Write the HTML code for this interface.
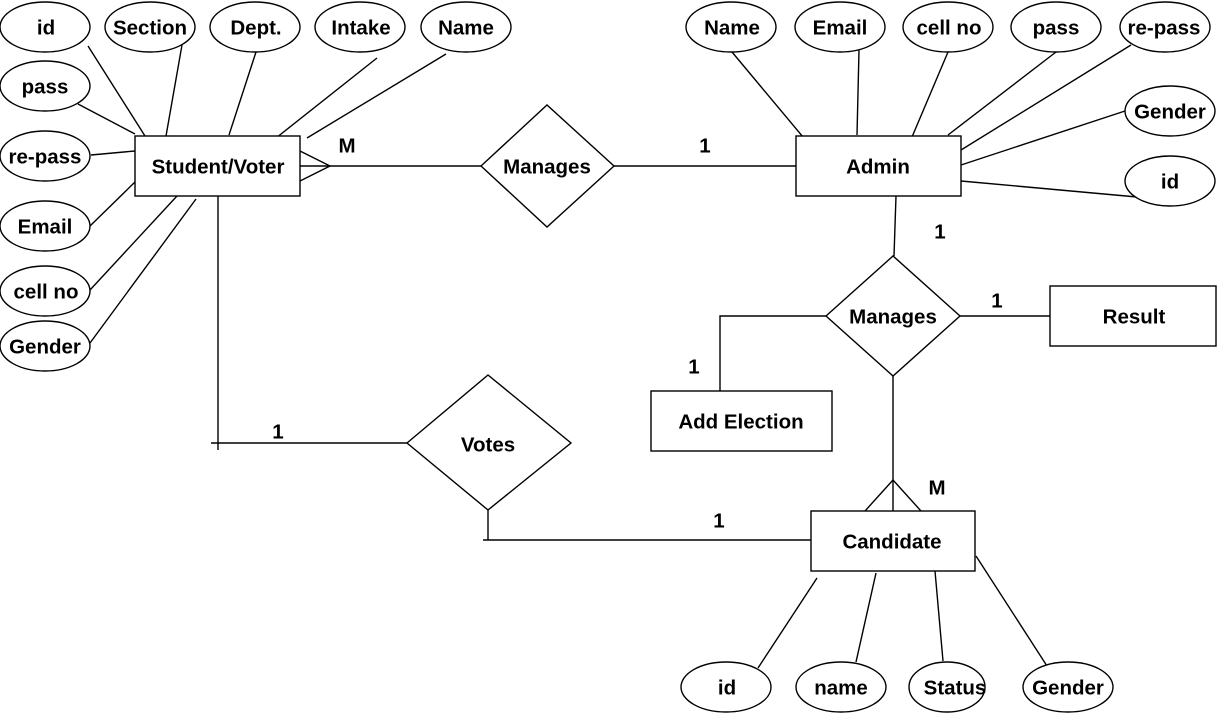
<!DOCTYPE html>
<html><head><meta charset="utf-8"><style>
html,body{margin:0;padding:0;background:#fff;}
svg{display:block;}
text{font-family:"Liberation Sans",Arial,sans-serif;font-weight:bold;font-size:20.5px;fill:#000;text-anchor:middle;dominant-baseline:central;}
</style></head><body>
<svg width="1217" height="713" viewBox="0 0 1217 713" xmlns="http://www.w3.org/2000/svg">
<g stroke="#000" stroke-width="1.4" fill="none">
<line x1="88" y1="46" x2="145" y2="136"/>
<line x1="182" y1="45" x2="166" y2="136"/>
<line x1="256" y1="52" x2="229" y2="135"/>
<line x1="377" y1="58" x2="276" y2="138"/>
<line x1="446" y1="54" x2="307" y2="138"/>
<line x1="78" y1="104" x2="135" y2="134"/>
<line x1="91" y1="155" x2="135" y2="151"/>
<line x1="90" y1="226" x2="135" y2="182"/>
<line x1="90" y1="290" x2="177" y2="196"/>
<line x1="90" y1="343" x2="196" y2="199"/>
<line x1="300" y1="151" x2="330" y2="166"/>
<line x1="300" y1="166" x2="481" y2="166"/>
<line x1="300" y1="181" x2="330" y2="166"/>
<line x1="614" y1="166" x2="796" y2="166"/>
<line x1="732" y1="52" x2="803" y2="137"/>
<line x1="859" y1="50" x2="857" y2="135"/>
<line x1="948" y1="52" x2="912" y2="137"/>
<line x1="1056" y1="52" x2="948" y2="135"/>
<line x1="1131" y1="45" x2="961" y2="150"/>
<line x1="1125" y1="111" x2="961" y2="165"/>
<line x1="1137" y1="197" x2="961" y2="181"/>
<line x1="896" y1="196" x2="894" y2="256"/>
<line x1="960" y1="316" x2="1050" y2="316"/>
<polyline points="826,316 720,316 720,392"/>
<line x1="893" y1="376" x2="893" y2="511"/>
<line x1="893" y1="480" x2="865" y2="511"/>
<line x1="893" y1="480" x2="921" y2="511"/>
<line x1="218" y1="196" x2="218" y2="450"/>
<line x1="211" y1="443" x2="407" y2="443"/>
<line x1="488" y1="510" x2="488" y2="540"/>
<line x1="483" y1="540" x2="811" y2="540"/>
<line x1="817" y1="578" x2="758" y2="668"/>
<line x1="876" y1="573" x2="856" y2="662"/>
<line x1="935" y1="571" x2="943" y2="661"/>
<line x1="976" y1="556" x2="1047" y2="666"/>
</g>
<g stroke="#000" stroke-width="1.4" fill="#fff">
<rect x="135" y="136" width="165" height="60"/>
<rect x="796" y="136" width="165" height="60"/>
<rect x="1050" y="286" width="166" height="60"/>
<rect x="651" y="391" width="181" height="60"/>
<rect x="811" y="511" width="164" height="60"/>
<polygon points="481,166 547,105 614,166 547,227"/>
<polygon points="826,316 893,256 960,316 893,376"/>
<polygon points="407,443 488,375 571,443 488,510"/>
<ellipse cx="45" cy="27" rx="45" ry="25"/>
<ellipse cx="150" cy="27" rx="45" ry="25"/>
<ellipse cx="255" cy="27" rx="45" ry="25"/>
<ellipse cx="360" cy="27" rx="45" ry="25"/>
<ellipse cx="466" cy="27" rx="45" ry="25"/>
<ellipse cx="45" cy="86" rx="45" ry="25"/>
<ellipse cx="45" cy="156" rx="45" ry="25"/>
<ellipse cx="45" cy="226" rx="45" ry="25"/>
<ellipse cx="45" cy="291" rx="45" ry="25"/>
<ellipse cx="45" cy="346" rx="45" ry="25"/>
<ellipse cx="731" cy="27" rx="45" ry="25"/>
<ellipse cx="840" cy="27" rx="45" ry="25"/>
<ellipse cx="948" cy="27" rx="45" ry="25"/>
<ellipse cx="1056" cy="27" rx="45" ry="25"/>
<ellipse cx="1165" cy="27" rx="45" ry="25"/>
<ellipse cx="1170" cy="111" rx="45" ry="25"/>
<ellipse cx="1170" cy="181" rx="45" ry="25"/>
<ellipse cx="726" cy="687" rx="45" ry="25"/>
<ellipse cx="841" cy="687" rx="45" ry="25"/>
<ellipse cx="947" cy="687" rx="38" ry="25"/>
<ellipse cx="1068" cy="687" rx="45" ry="25"/>
</g>
<text x="46" y="28">id</text>
<text x="150" y="28">Section</text>
<text x="256" y="28">Dept.</text>
<text x="361" y="28">Intake</text>
<text x="466" y="28">Name</text>
<text x="45" y="87">pass</text>
<text x="45" y="157">re-pass</text>
<text x="45" y="227">Email</text>
<text x="46" y="292">cell no</text>
<text x="45" y="347">Gender</text>
<text x="218" y="167">Student/Voter</text>
<text x="347" y="146">M</text>
<text x="547" y="167">Manages</text>
<text x="705" y="146">1</text>
<text x="878" y="167">Admin</text>
<text x="732" y="28">Name</text>
<text x="840" y="28">Email</text>
<text x="949" y="28">cell no</text>
<text x="1056" y="28">pass</text>
<text x="1164" y="28">re-pass</text>
<text x="1170" y="112">Gender</text>
<text x="1170" y="182">id</text>
<text x="940" y="232">1</text>
<text x="893" y="317">Manages</text>
<text x="997" y="301">1</text>
<text x="1134" y="317">Result</text>
<text x="694" y="367">1</text>
<text x="741" y="422">Add Election</text>
<text x="488" y="445">Votes</text>
<text x="278" y="432">1</text>
<text x="719" y="521">1</text>
<text x="937" y="488">M</text>
<text x="892" y="542">Candidate</text>
<text x="727" y="688">id</text>
<text x="841" y="688">name</text>
<text x="955" y="688">Status</text>
<text x="1068" y="688">Gender</text>
</svg>
</body></html>
